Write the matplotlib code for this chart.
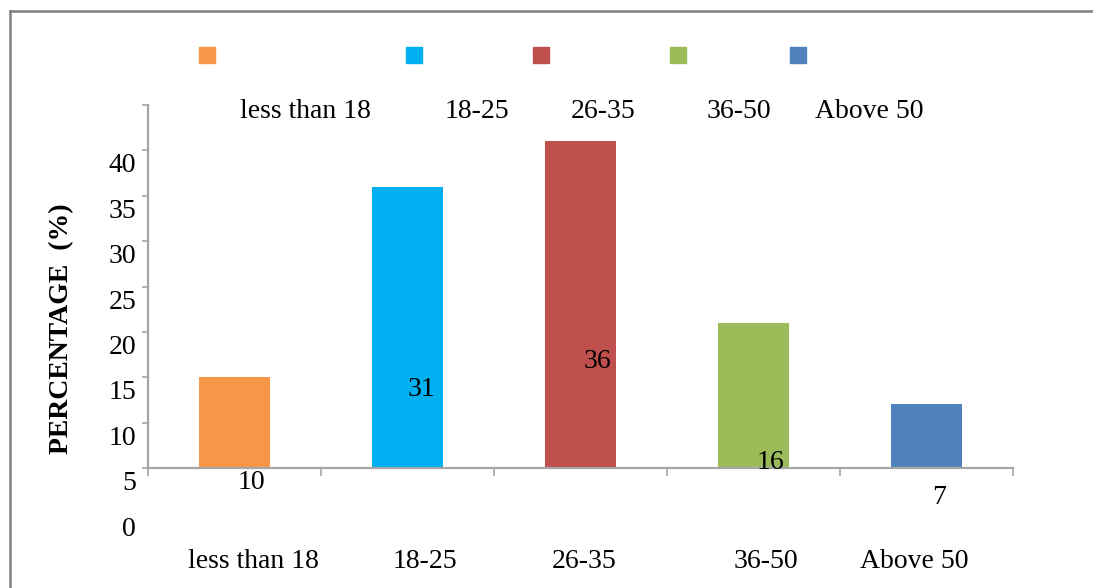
import matplotlib
matplotlib.use("Agg")
import matplotlib.pyplot as plt
from matplotlib.patches import Rectangle
from matplotlib.lines import Line2D
from matplotlib.transforms import ScaledTranslation

# ---- data ----
categories = ["less than 18", "18-25", "26-35", "36-50", "Above 50"]
values = [10, 31, 36, 16, 7]
value_labels = ["10", "31", "36", "16", "7"]
colors = ["#F79646", "#00B0F0", "#C0504D", "#9BBB59", "#4F81BD"]
ytick_values = [0, 5, 10, 15, 20, 25, 30, 35, 40]
ytick_labels = ["0", "5", "10", "15", "20", "25", "30", "35", "40"]
ylabel = "PERCENTAGE  (%)"

# ---- layout (positions only) ----
value_label_y = [-1.65, 8.7, 11.7, 0.66, -3.2]       # where the value labels sit (data units)
value_label_dx = [17, 14, 17, 17, 13]                # px offset from bar centre
cat_label_dx = [19, 17, 4, 12, -12]                  # px offset of bottom category labels
legend_square_x = [199, 406, 533, 670, 790]          # px
legend_text_x = [305, 477, 603, 739, 869]            # px (centres)

W, H = 1093, 588
DPI = 100
plt.rcParams['font.family'] = ['Liberation Serif', 'DejaVu Serif']
FS = 20

fig = plt.figure(figsize=(W / DPI, H / DPI), dpi=DPI)
fig.patch.set_facecolor("white")

ax_left, ax_right, ax_top, ax_bottom = 148, 1013, 105, 468
ax = fig.add_axes([ax_left / W, 1 - ax_bottom / H, (ax_right - ax_left) / W, (ax_bottom - ax_top) / H])

x = list(range(len(categories)))
ax.bar(x, values, width=0.405, color=colors, zorder=2)
ax.set_xlim(-0.5, len(categories) - 0.5)
ax.set_ylim(0, 40)

grey = "#A6A6A6"
for s in ["top", "right"]:
    ax.spines[s].set_visible(False)
for s in ["left", "bottom"]:
    ax.spines[s].set_color(grey)
    ax.spines[s].set_linewidth(1.6)

ax.set_yticks(ytick_values)
ax.set_yticklabels(ytick_labels, fontsize=FS)
ax.tick_params(axis='y', direction='out', length=4, width=1.2, color=grey, pad=4.5)
off = ScaledTranslation(0, -58 / DPI, fig.dpi_scale_trans)
for lab in ax.get_yticklabels():
    lab.set_transform(lab.get_transform() + off)

ax.set_xticks([i - 0.5 for i in range(len(categories) + 1)])
ax.set_xticklabels([])
ax.tick_params(axis='x', direction='out', length=6, width=1.2, color=grey)

# value labels
for i, (lab, ly, dx) in enumerate(zip(value_labels, value_label_y, value_label_dx)):
    t = ax.text(i, ly, lab, ha='center', va='center', fontsize=FS, zorder=3)
    t.set_transform(ax.transData + ScaledTranslation(dx / DPI, 0, fig.dpi_scale_trans))

# bottom category labels
for i, (lab, dx) in enumerate(zip(categories, cat_label_dx)):
    t = ax.text(i, 0, lab, ha='center', va='center', fontsize=FS)
    t.set_transform(ax.transData + ScaledTranslation(dx / DPI, -94 / DPI, fig.dpi_scale_trans))

# y label
fig.text(62 / W, 1 - 329 / H, ylabel, rotation=90, ha='center', va='center',
         fontsize=20, fontweight='bold')

# broken legend: squares on one row, labels on the next
sq = 16
for c, sx in zip(colors, legend_square_x):
    fig.patches.append(Rectangle((sx / W, 1 - (47 + sq) / H), sq / W, sq / H,
                                 transform=fig.transFigure, color=c))
for lab, tx in zip(categories, legend_text_x):
    fig.text(tx / W, 1 - 112 / H, lab, ha='center', va='center', fontsize=FS)

# outer frame (top + left)
fig.add_artist(Line2D([10 / W, 1], [1 - 11 / H, 1 - 11 / H], transform=fig.transFigure,
                      color="#7F7F7F", linewidth=1.8))
fig.add_artist(Line2D([10 / W, 10 / W], [0, 1 - 11 / H], transform=fig.transFigure,
                      color="#7F7F7F", linewidth=1.8))

fig.savefig("out.png", dpi=DPI, facecolor="white")
